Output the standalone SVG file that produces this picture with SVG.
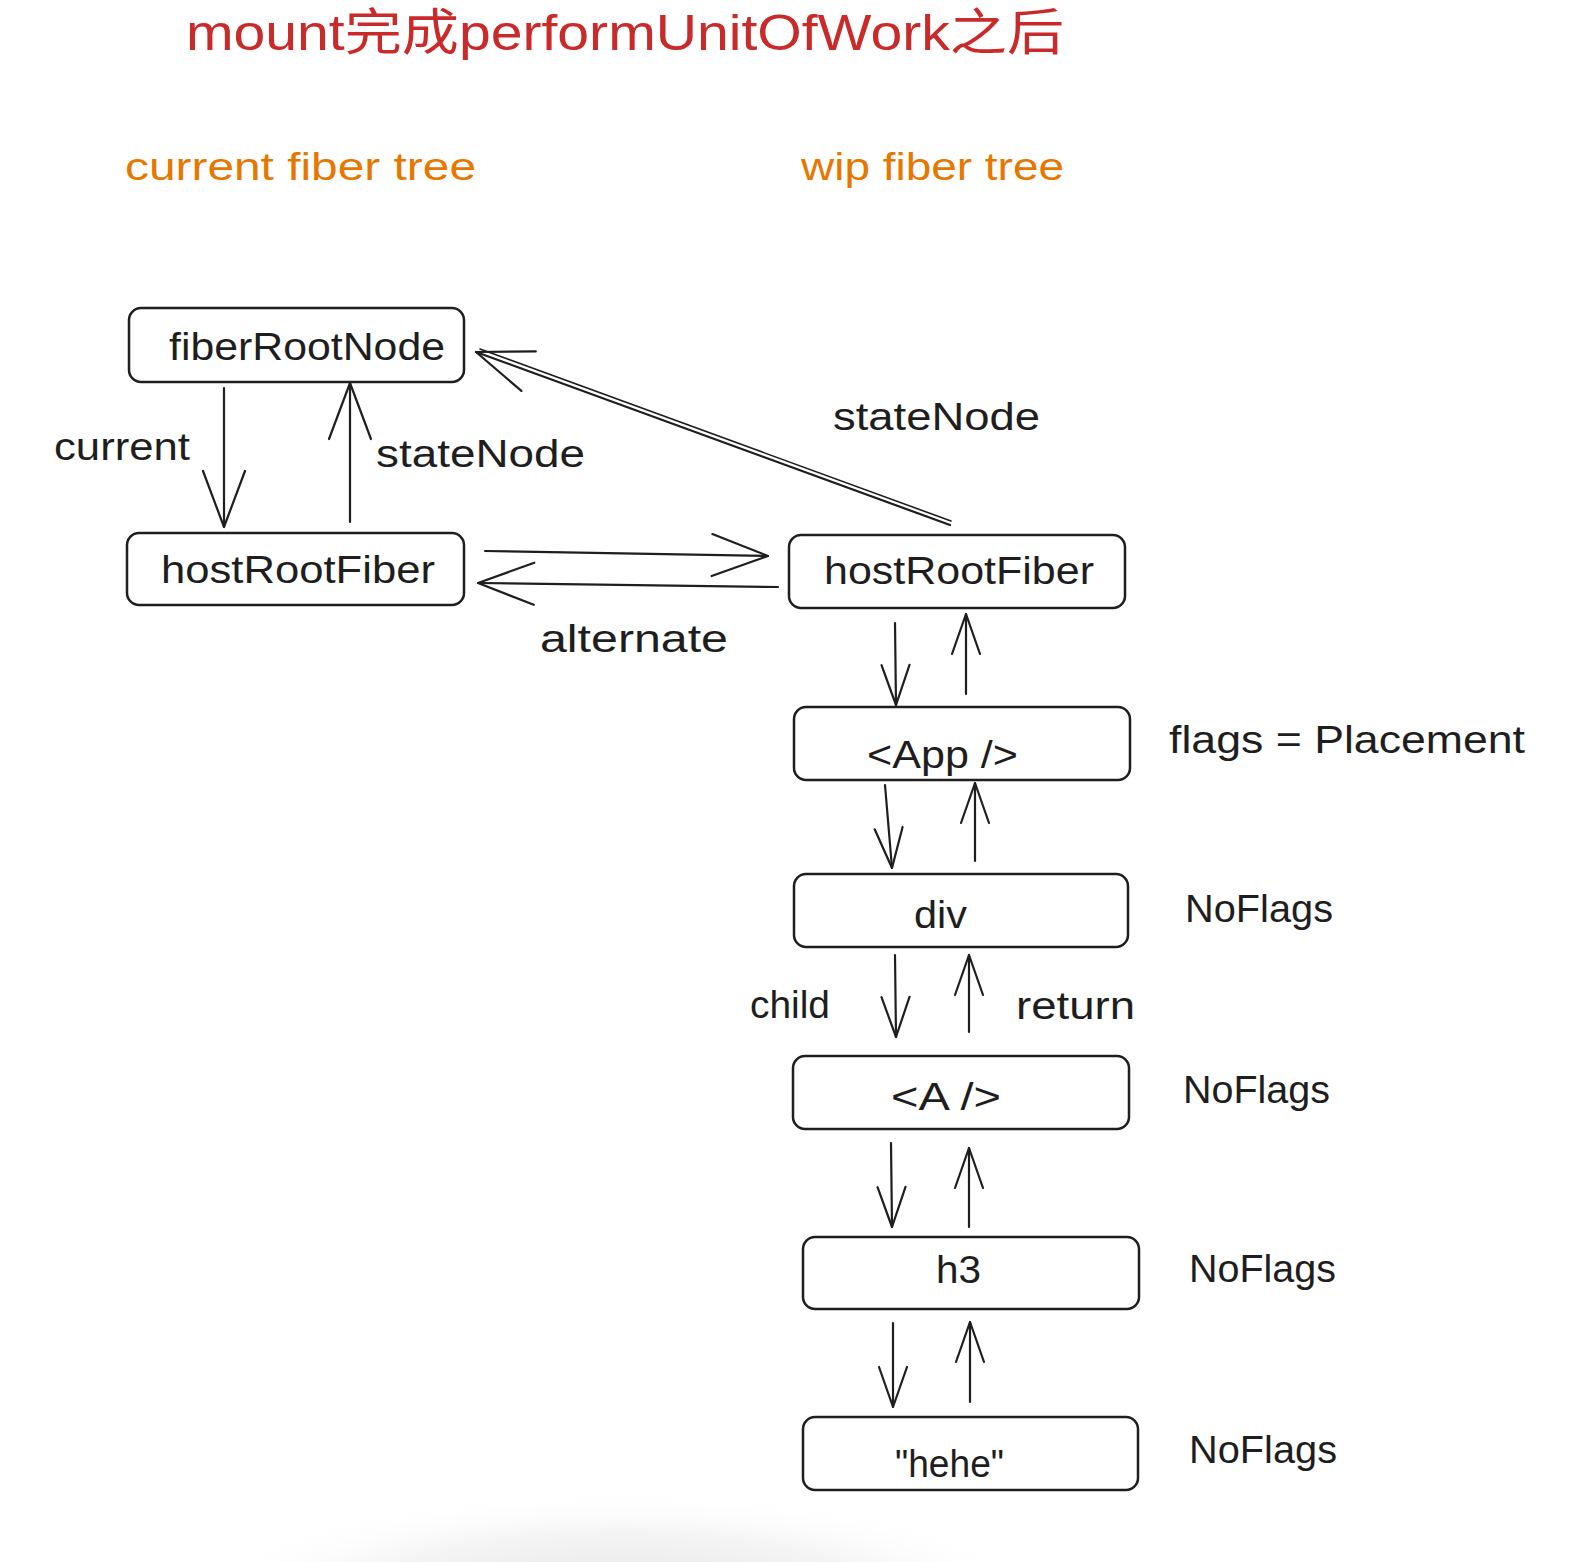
<svg xmlns="http://www.w3.org/2000/svg" width="1596" height="1562" viewBox="0 0 1596 1562">
<style>
.box{fill:#fff;stroke:#1e1e1e;stroke-width:2.5}
.t{font-family:"Liberation Sans","Noto Sans CJK SC",sans-serif;font-size:38px;fill:#1e1e1e}
.title{font-family:"Liberation Sans","Noto Sans CJK SC",sans-serif;font-size:50px;fill:#c92a2a}
.sub{font-family:"Liberation Sans",sans-serif;font-size:38px;fill:#e67700}
.ln{fill:none;stroke:#1e1e1e;stroke-width:2.2;stroke-linecap:round}
.dbl{fill:none;stroke:#1e1e1e;stroke-width:1.6;stroke-linecap:round}
.big{marker-end:url(#hb)}
.sm{marker-end:url(#hs)}
</style>
<defs>
<marker id="hb" markerUnits="userSpaceOnUse" markerWidth="70" markerHeight="60" refX="62" refY="30" orient="auto" overflow="visible">
<path d="M6,9 L62,30 L6,51" fill="none" stroke="#1e1e1e" stroke-width="2.2" stroke-linecap="round" stroke-linejoin="round"/>
</marker>
<marker id="hs" markerUnits="userSpaceOnUse" markerWidth="50" markerHeight="40" refX="44" refY="20" orient="auto" overflow="visible">
<path d="M4,6 L44,20 L4,34" fill="none" stroke="#1e1e1e" stroke-width="2.2" stroke-linecap="round" stroke-linejoin="round"/>
</marker>
<radialGradient id="shadow" cx="0.5" cy="0.5" r="0.5">
<stop offset="0" stop-color="#e4e4e4"/>
<stop offset="0.6" stop-color="#efefef" stop-opacity="0.7"/>
<stop offset="1" stop-color="#ffffff" stop-opacity="0"/>
</radialGradient>
</defs>
<rect width="1596" height="1562" fill="#fff"/>
<ellipse cx="620" cy="1600" rx="430" ry="110" fill="url(#shadow)"/>

<g id="labels">
<text class="title" x="186" y="50" textLength="878" lengthAdjust="spacingAndGlyphs">mount完成performUnitOfWork之后</text>
<text class="sub" x="125" y="180" textLength="351" lengthAdjust="spacingAndGlyphs">current fiber tree</text>
<text class="sub" x="801" y="180" textLength="263" lengthAdjust="spacingAndGlyphs">wip fiber tree</text>
<text class="t" x="54" y="460" textLength="136" lengthAdjust="spacingAndGlyphs">current</text>
<text class="t" x="376" y="467" textLength="209" lengthAdjust="spacingAndGlyphs">stateNode</text>
<text class="t" x="833" y="430" textLength="207" lengthAdjust="spacingAndGlyphs">stateNode</text>
<text class="t" x="540" y="652" textLength="188" lengthAdjust="spacingAndGlyphs">alternate</text>
<text class="t" x="1169" y="753" textLength="356" lengthAdjust="spacingAndGlyphs">flags = Placement</text>
<text class="t" x="1185" y="922" textLength="148" lengthAdjust="spacingAndGlyphs">NoFlags</text>
<text class="t" x="750" y="1018" textLength="80" lengthAdjust="spacingAndGlyphs">child</text>
<text class="t" x="1016" y="1019" textLength="119" lengthAdjust="spacingAndGlyphs">return</text>
<text class="t" x="1183" y="1103" textLength="147" lengthAdjust="spacingAndGlyphs">NoFlags</text>
<text class="t" x="1189" y="1282" textLength="147" lengthAdjust="spacingAndGlyphs">NoFlags</text>
<text class="t" x="1189" y="1463" textLength="148" lengthAdjust="spacingAndGlyphs">NoFlags</text>
</g>

<g id="fiberRootNode">
<rect class="box" x="129" y="308" width="335" height="74" rx="12"/>
<text class="t" x="169" y="360" textLength="276" lengthAdjust="spacingAndGlyphs">fiberRootNode</text>
</g>
<g id="hostRootFiber-current">
<rect class="box" x="127" y="533" width="337" height="72" rx="12"/>
<text class="t" x="161" y="583" textLength="274" lengthAdjust="spacingAndGlyphs">hostRootFiber</text>
</g>
<g id="hostRootFiber-wip">
<rect class="box" x="789" y="535" width="336" height="73" rx="12"/>
<text class="t" x="824" y="584" textLength="270" lengthAdjust="spacingAndGlyphs">hostRootFiber</text>
</g>
<g id="App">
<rect class="box" x="794" y="707" width="336" height="73" rx="12"/>
<text class="t" x="867" y="768" textLength="151" lengthAdjust="spacingAndGlyphs">&lt;App /&gt;</text>
</g>
<g id="div">
<rect class="box" x="794" y="874" width="334" height="73" rx="12"/>
<text class="t" x="914" y="928" textLength="53" lengthAdjust="spacingAndGlyphs">div</text>
</g>
<g id="A">
<rect class="box" x="793" y="1056" width="336" height="73" rx="12"/>
<text class="t" x="891" y="1110" textLength="110" lengthAdjust="spacingAndGlyphs">&lt;A /&gt;</text>
</g>
<g id="h3">
<rect class="box" x="803" y="1237" width="336" height="72" rx="12"/>
<text class="t" x="936" y="1283" textLength="45" lengthAdjust="spacingAndGlyphs">h3</text>
</g>
<g id="hehe">
<rect class="box" x="803" y="1417" width="335" height="73" rx="12"/>
<text class="t" x="895" y="1477" textLength="109" lengthAdjust="spacingAndGlyphs">&quot;hehe&quot;</text>
</g>

<g id="connectors">
<path class="ln big" d="M224,388 L224,527"/>
<path class="ln big" d="M350,522 L350,383"/>
<path class="ln big" d="M950,525 L476,352"/>
<path class="dbl" d="M951,521 L480,349"/>
<path class="ln big" d="M485,551 L768,556"/>
<path class="ln big" d="M778,587 L478,583"/>
<path class="ln sm" d="M895,623 L896,705"/>
<path class="ln sm" d="M966,694 L966,614"/>
<path class="ln sm" d="M885,785 L892,868"/>
<path class="ln sm" d="M975,861 L975,783"/>
<path class="ln sm" d="M895,955 L896,1037"/>
<path class="ln sm" d="M969,1032 L969,955"/>
<path class="ln sm" d="M891,1143 L892,1227"/>
<path class="ln sm" d="M969,1227 L969,1148"/>
<path class="ln sm" d="M893,1323 L893,1407"/>
<path class="ln sm" d="M970,1402 L970,1322"/>
</g>
</svg>
